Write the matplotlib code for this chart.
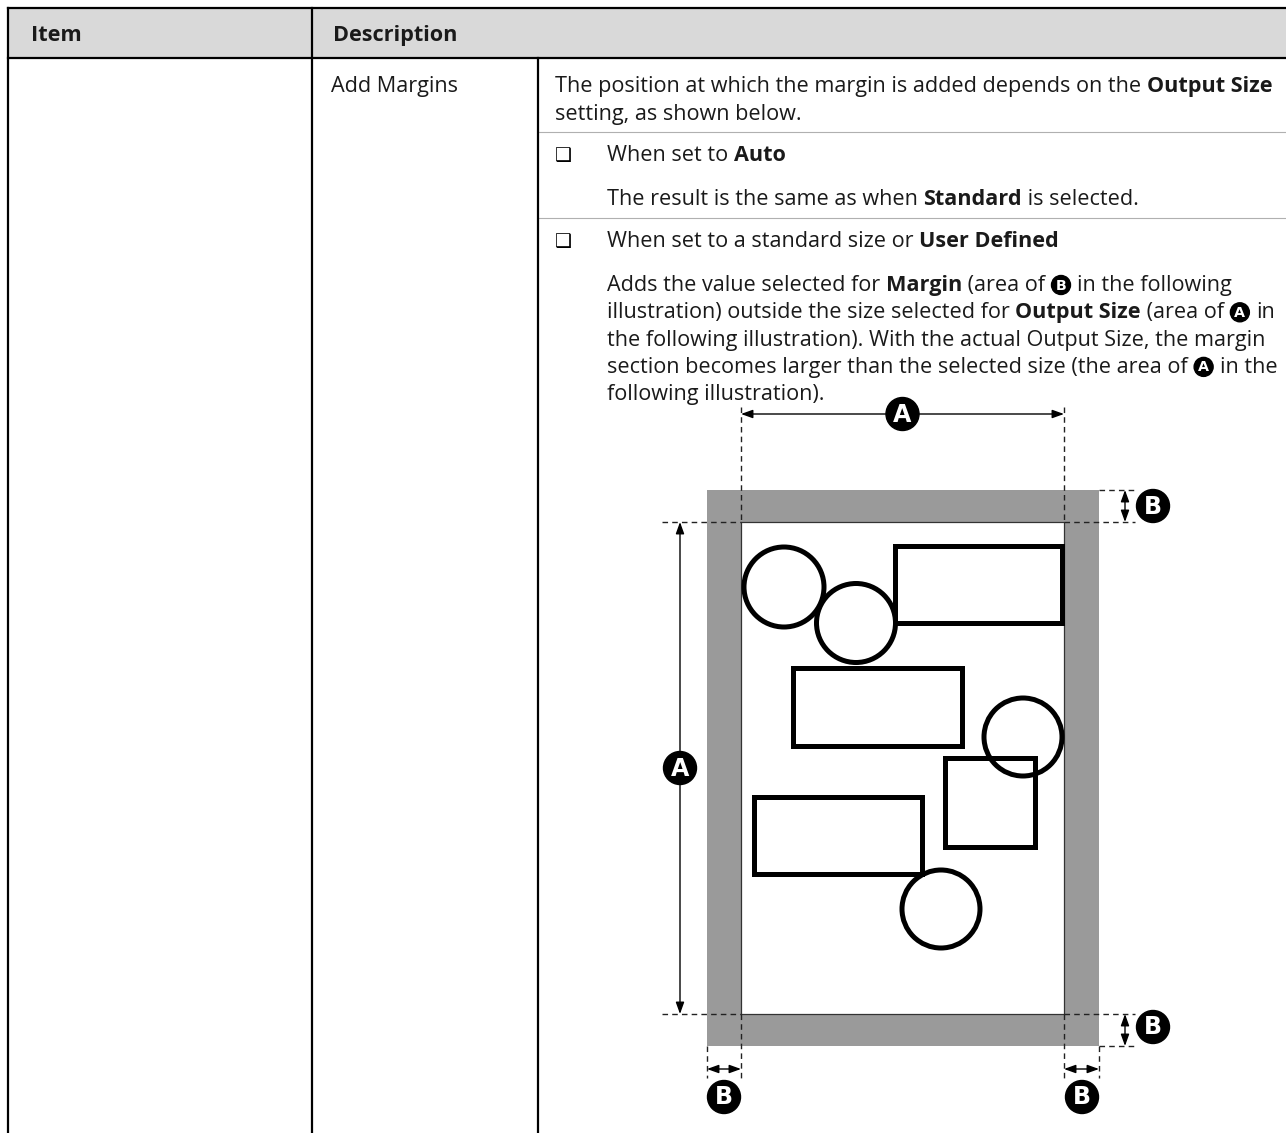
import matplotlib
matplotlib.use('Agg')
import matplotlib.pyplot as plt
from matplotlib.patches import Rectangle, Circle

FONT = ['Open Sans', 'DejaVu Sans']
plt.rcParams['font.family'] = FONT

# ── content ──
HEADERS = ['Item', 'Description']
ROW_LABEL = 'Add Margins'
# runs: (text, style) style r=regular, b=bold, c=circled letter
DESC_LINES = [
    [('The position at which the margin is added depends on the ', 'r'), ('Output Size', 'b')],
    [('setting, as shown below.', 'r')],
]
BULLET_1 = [('When set to ', 'r'), ('Auto', 'b')]
BULLET_1_BODY = [[('The result is the same as when ', 'r'), ('Standard', 'b'), (' is selected.', 'r')]]
BULLET_2 = [('When set to a standard size or ', 'r'), ('User Defined', 'b')]
BULLET_2_BODY = [
    [('Adds the value selected for ', 'r'), ('Margin', 'b'), (' (area of', 'r'), ('B', 'c'),
     ('in the following', 'r')],
    [('illustration) outside the size selected for ', 'r'), ('Output Size', 'b'),
     (' (area of', 'r'), ('A', 'c'), ('in', 'r')],
    [('the following illustration). With the actual Output Size, the margin', 'r')],
    [('section becomes larger than the selected size (the area of', 'r'), ('A', 'c'), ('in the', 'r')],
    [('following illustration).', 'r')],
]

# illustration shapes (pixel space of the page)
OUTER = (707, 490, 1099, 1046)     # grey margin band
INNER = (741, 522, 1064, 1014)     # output size area
CIRCLES = [(784, 587, 40), (856, 623, 39.5), (1023, 737, 39), (941, 909, 39)]
RECTS = [(895, 546, 1062, 623), (793, 668, 962, 746), (945, 758, 1035, 847), (754, 797, 922, 874)]

fig = plt.figure(figsize=(12.86, 11.33), dpi=100)
ax = fig.add_axes([0, 0, 1, 1])
ax.set_xlim(0, 1286); ax.set_ylim(1133, 0); ax.axis('off')
R = fig.canvas.get_renderer()

# width of a text run in pixels (bars keep the spaces counted)
def _w(s, weight, size):
    t = ax.text(0, 0, '|' + s + '|', fontsize=size, fontweight=weight)
    w = t.get_window_extent(renderer=R).width
    t.remove()
    t = ax.text(0, 0, '||', fontsize=size, fontweight=weight)
    w0 = t.get_window_extent(renderer=R).width
    t.remove()
    return w - w0

# fit font size so the first description line spans like the reference
line0 = _w(DESC_LINES[0][0][0], 'normal', 10) + _w(DESC_LINES[0][1][0], 'bold', 10)
FS = 10 * 718 / line0
CR = 9.5  # inline circled letter radius

def circ_letter(x, y, ch, r, fs):
    ax.add_patch(Circle((x, y), r, color='black', zorder=6))
    ax.text(x, y + 0.5, ch, color='white', fontsize=fs, fontweight='bold',
            ha='center', va='center', zorder=7, family=['DejaVu Sans'])

def draw_runs(x, yb, runs):
    for txt, st in runs:
        if st == 'c':
            pad = 6.5
            circ_letter(x + pad + CR, yb - 6, txt, CR, FS * 0.66)
            x += 2 * CR + 2 * pad
            continue
        wt = 'bold' if st == 'b' else 'normal'
        ax.text(x, yb, txt, fontsize=FS, fontweight=wt, va='baseline', ha='left', color='#1a1a1a')
        x += _w(txt, wt, FS)

# ── table frame ──
ax.add_patch(Rectangle((8, 8), 1278, 50, facecolor='#d9d9d9', edgecolor='none', zorder=0))
TL = dict(color='black', lw=1.6, zorder=3)
ax.plot([8, 1286], [8, 8], **TL)
ax.plot([8, 1286], [58, 58], **TL)
ax.plot([8, 8], [8, 1133], **TL)
ax.plot([312, 312], [8, 1133], **TL)
ax.plot([538, 538], [58, 1133], **TL)
for yy in (132, 218):
    ax.plot([538, 1286], [yy, yy], color='#b0b0b0', lw=0.8, zorder=2)

draw_runs(31, 41, [(HEADERS[0], 'b')])
draw_runs(333, 41, [(HEADERS[1], 'b')])
draw_runs(331, 92, [(ROW_LABEL, 'r')])

yb = 92
for ln in DESC_LINES:
    draw_runs(555, yb, ln); yb += 28
for bullet, body, by in ((BULLET_1, BULLET_1_BODY, 161), (BULLET_2, BULLET_2_BODY, 247)):
    ax.text(555, by, '\u2751', fontsize=FS * 0.88, family=['DejaVu Sans'], va='baseline', ha='left')
    draw_runs(607, by, bullet)
    yy = by + 44
    for ln in body:
        draw_runs(607, yy, ln); yy += 27.3

# ── illustration ──
x0, y0, x1, y1 = OUTER
ax.add_patch(Rectangle((x0, y0), x1 - x0, y1 - y0, facecolor='#9a9a9a', edgecolor='none', zorder=1))
ix0, iy0, ix1, iy1 = INNER
ax.add_patch(Rectangle((ix0, iy0), ix1 - ix0, iy1 - iy0, facecolor='white', edgecolor='#333333',
                       lw=0.9, zorder=2))
for cx, cy, r in CIRCLES:
    ax.add_patch(Circle((cx, cy), r, facecolor='none', edgecolor='black', lw=3.6, zorder=3))
for a, b, c, d in RECTS:
    ax.add_patch(Rectangle((a, b), c - a, d - b, facecolor='none', edgecolor='black', lw=3.6,
                           zorder=3, joinstyle='miter'))

DL = dict(color='#222222', lw=1.0, ls=(0, (4, 3)), zorder=4)
ax.plot([ix0, ix0], [407, iy0], **DL); ax.plot([ix1, ix1], [407, iy0], **DL)
ax.plot([662, ix0], [iy0, iy0], **DL); ax.plot([662, ix0], [iy1, iy1], **DL)
ax.plot([x1, 1135], [y0, y0], **DL); ax.plot([ix1, 1135], [iy0, iy0], **DL)
ax.plot([ix1, 1135], [iy1, iy1], **DL); ax.plot([x1, 1135], [y1, y1], **DL)
ax.plot([x0, x0], [y1, 1078], **DL); ax.plot([ix0, ix0], [iy1, 1078], **DL)
ax.plot([ix1, ix1], [iy1, 1078], **DL); ax.plot([x1, x1], [y1, 1078], **DL)

def darrow(p, q):
    ax.annotate('', xy=q, xytext=p, zorder=5,
                arrowprops=dict(arrowstyle='<|-|>,head_length=0.5,head_width=0.18', color='black',
                                lw=1.0, shrinkA=0, shrinkB=0, mutation_scale=14))

darrow((ix0, 414), (ix1, 414))
darrow((680, iy0), (680, iy1))
darrow((1125, y0), (1125, iy0))
darrow((1125, iy1), (1125, y1))
darrow((x0, 1069), (ix0, 1069))
darrow((ix1, 1069), (x1, 1069))

BIG = 16.5
circ_letter((ix0 + ix1) / 2, 414, 'A', BIG, FS * 1.1)
circ_letter(680, (iy0 + iy1) / 2, 'A', BIG, FS * 1.1)
circ_letter(1153, 506, 'B', BIG, FS * 1.1)
circ_letter(1153, 1027, 'B', BIG, FS * 1.1)
circ_letter(724, 1097, 'B', BIG, FS * 1.1)
circ_letter(1082, 1097, 'B', BIG, FS * 1.1)

fig.savefig('out.png', dpi=100)
